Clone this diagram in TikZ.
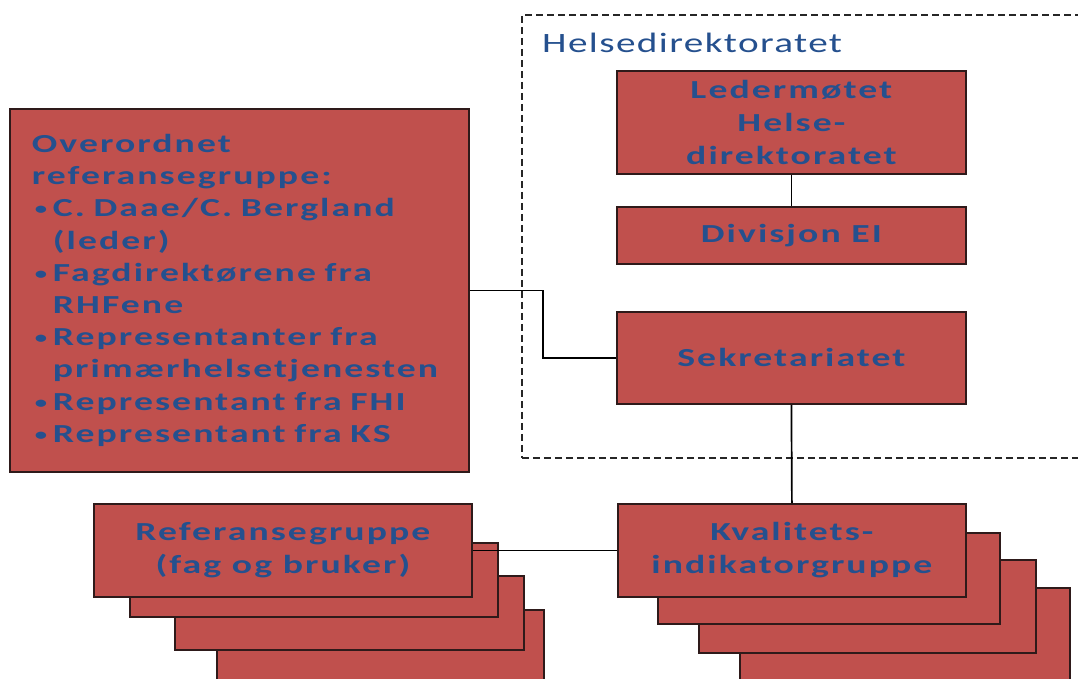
\documentclass[tikz,border=0pt]{standalone}
\usepackage{fontspec}
\setmainfont{Carlito}[FakeStretch=1.45,LetterSpace=8]
\newfontfamily\titlefont{Carlito}[FakeStretch=1.4,LetterSpace=5]
\definecolor{boxred}{HTML}{C0504D}
\definecolor{txtblue}{HTML}{25508E}
\definecolor{boxedge}{HTML}{2E1A1A}
\newcommand{\itm}{\makebox[21pt][l]{\hspace{3pt}\raisebox{2pt}{\fontsize{17}{17}\selectfont\textbullet}}}
\newcommand{\hng}{\hspace*{21pt}}

\begin{document}
\begin{tikzpicture}[x=1pt,y=-1pt,
  box/.style 2 args={draw=boxedge,line width=1.8pt,fill=boxred,inner sep=0pt,
    anchor=north west,minimum width=#1,minimum height=#2},
  lbl/.style={text=txtblue,font=\bfseries\fontsize{26}{33}\selectfont,align=center},
  frame/.style={draw=black!85,line width=1.6pt,dash pattern=on 7pt off 4pt,
    anchor=north west,inner sep=0pt},
  link/.style={draw=black,line width=1.7pt}]
\clip (0,0) rectangle (1078,678);

% Helsedirektoratet
\node[frame,minimum width=570,minimum height=443] (hdir) at (521,14) {};
\node[anchor=base west,inner sep=0pt,text=txtblue,
  font=\titlefont\fontsize{28}{33}\selectfont] (hlab) at (542,52) {Helsedirektoratet};
\node[box={349}{103},lbl] (led) at (616,70) {Ledermøtet\\Helse-\\direktoratet};
\node[box={349}{57},lbl] (div) at (616,206) {Divisjon EI};
\node[box={349}{92},lbl] (sek) at (616,311) {Sekretariatet};

% overordnet referansegruppe
\node[box={459}{363},lbl,align=left,text width=415,
  font=\bfseries\fontsize{26}{32.2}\selectfont] (ovr) at (9,108)
  {Overordnet\\
   referansegruppe:\\
   \itm C. Daae/C. Bergland\\
   \hng(leder)\\
   \itm Fagdirektørene fra\\
   \hng RHFene\\
   \itm Representanter fra\\
   \hng primærhelsetjenesten\\
   \itm Representant fra FHI\\
   \itm Representant fra KS};

% stabler
\foreach \x/\y/\w/\h/\n in {216/609/327/80/4,174/575/349/74/3,129/542/368/74/2}
  \node[box={\w}{\h}] (ref\n) at (\x,\y) {};
\node[box={378}{93},lbl] (ref1) at (93,503) {Referansegruppe\\(fag og bruker)};
\foreach \x/\y/\w/\h/\n in {739/587/330/100/4,698/559/337/93/3,657/532/342/91/2}
  \node[box={\w}{\h}] (kv\n) at (\x,\y) {};
\node[box={348}{93},lbl] (kv1) at (617,503) {Kvalitets-\\indikatorgruppe};

% linjer
\coordinate (bend) at (543,0);
\draw[link] (led.south) -- (div.north);
\draw[link] (sek.south) -- (kv1.north);
\draw[link] (ovr.east) -- (ovr.east -| bend) |- (sek.west);
\draw[link] (ref1.east) -- (kv1.west);
\end{tikzpicture}
\end{document}
